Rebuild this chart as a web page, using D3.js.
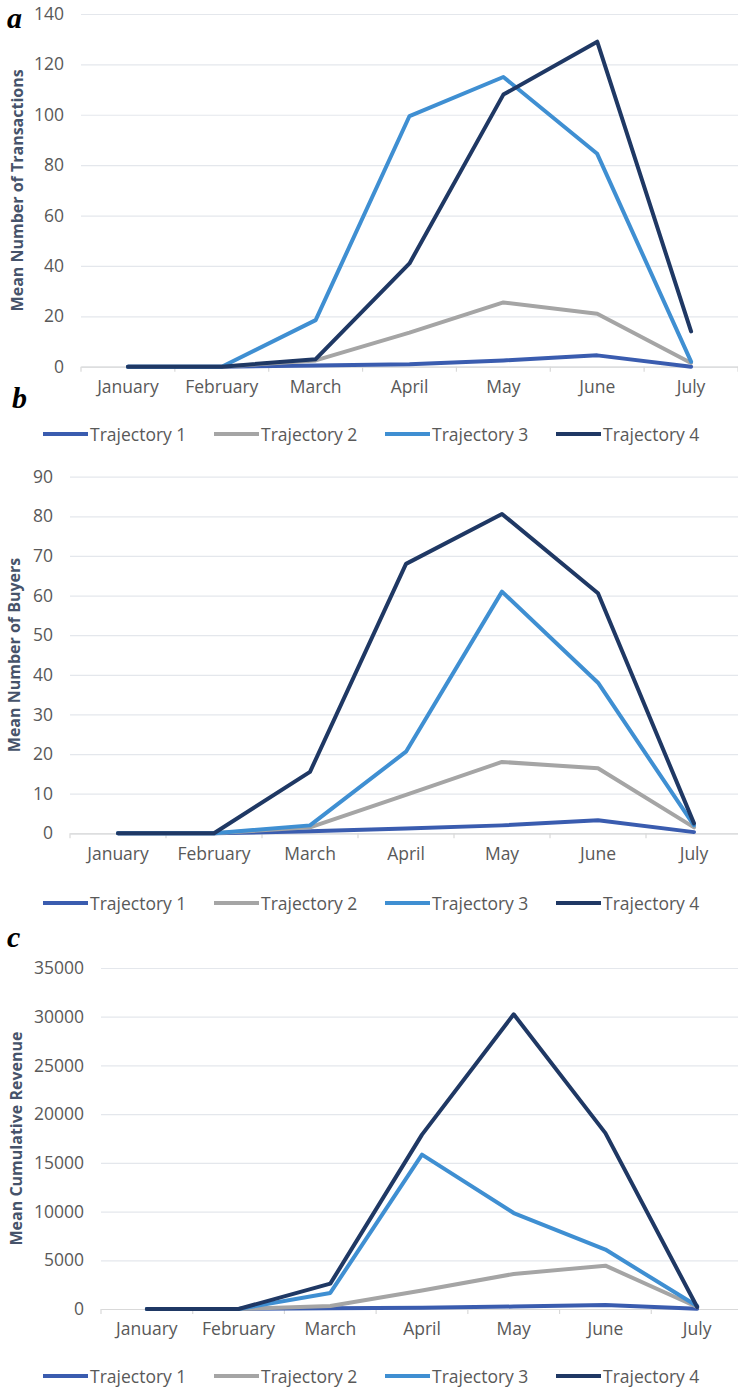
<!DOCTYPE html>
<html>
<head>
<meta charset="utf-8">
<script src="https://cdn.jsdelivr.net/npm/d3@7"></script>
<style>
  body { margin: 0; background: #fff; }
  text { font-family: "Open Sans", sans-serif; }
</style>
</head>
<body>
<svg id="chart" width="738" height="1389"></svg>
<script>
const months = ["January", "February", "March", "April", "May", "June", "July"];
const trajectories = ["Trajectory 1", "Trajectory 2", "Trajectory 3", "Trajectory 4"];
const colors = ["#3a5caf", "#a5a5a5", "#3f8fd2", "#1f3864"];

// a: mean number of transactions
const transTicks = [0, 20, 40, 60, 80, 100, 120, 140];
const transT1 = [0, 0, 0.5, 1, 2.5, 4.5, 0];
const transT2 = [0, 0, 2.5, 13.5, 25.5, 21, 1.5];
const transT3 = [0, 0, 18.5, 99.5, 115, 84.5, 2];
const transT4 = [0, 0, 3, 41, 108, 129, 14];

// b: mean number of buyers
const buyerTicks = [0, 10, 20, 30, 40, 50, 60, 70, 80, 90];
const buyersT1 = [0, 0, 0.5, 1.2, 2, 3.3, 0.3];
const buyersT2 = [0, 0, 1.5, 9.7, 18, 16.4, 1.5];
const buyersT3 = [0, 0, 2, 20.6, 61, 38, 2];
const buyersT4 = [0, 0, 15.5, 68, 80.6, 60.6, 2.5];

// c: mean cumulative revenue
const revenueTicks = [0, 5000, 10000, 15000, 20000, 25000, 30000, 35000];
const revenueT1 = [0, 0, 80, 120, 250, 400, 30];
const revenueT2 = [0, 0, 300, 1900, 3600, 4450, 200];
const revenueT3 = [0, 0, 1650, 15850, 9850, 6100, 300];
const revenueT4 = [0, 0, 2600, 17900, 30250, 18050, 200];

const panels = [
  {tag: "a", title: "Mean Number of Transactions", ticks: transTicks,
   series: [transT1, transT2, transT3, transT4],
   left: 81, right: 738, top: 14, bottom: 366.7, titleX: 17, legendY: 434, tagX: 7, tagY: 28},
  {tag: "b", title: "Mean Number of Buyers", ticks: buyerTicks,
   series: [buyersT1, buyersT2, buyersT3, buyersT4],
   left: 70, right: 742, top: 476.7, bottom: 833.3, titleX: 14, legendY: 903, tagX: 12, tagY: 408},
  {tag: "c", title: "Mean Cumulative Revenue", ticks: revenueTicks,
   series: [revenueT1, revenueT2, revenueT3, revenueT4],
   left: 101, right: 743, top: 968, bottom: 1309, titleX: 15.5, legendY: 1376, tagX: 7, tagY: 947}
];

const svg = d3.select("#chart");

panels.forEach(p => {
  const x = d3.scaleBand().domain(months).range([p.left, p.right]).padding(0);
  const y = d3.scaleLinear().domain([0, d3.max(p.ticks)]).range([p.bottom, p.top]);
  const cx = m => x(m) + x.bandwidth() / 2;

  // gridlines + y tick labels
  const yAxis = svg.append("g")
    .attr("transform", `translate(${p.left},0)`)
    .call(d3.axisLeft(y).tickValues(p.ticks).tickSize(-(p.right - p.left)).tickPadding(17).tickFormat(d3.format("d")));
  yAxis.select(".domain").remove();
  yAxis.selectAll(".tick line").attr("stroke", "#e4e7ec").attr("stroke-width", 1.2);
  yAxis.selectAll(".tick text")
    .attr("fill", "#595959").attr("font-size", 17.5)
    .style("font-family", "'Open Sans', sans-serif");

  // baseline and category labels
  const xAxis = svg.append("g")
    .attr("transform", `translate(0,${p.bottom})`)
    .call(d3.axisBottom(x).tickSize(0).tickPadding(14));
  xAxis.select(".domain").attr("stroke", "#d9d9d9").attr("stroke-width", 1.2);
  xAxis.selectAll(".tick text")
    .attr("fill", "#595959").attr("font-size", 17.5)
    .style("font-family", "'Open Sans', sans-serif");

  // small tick marks between categories
  svg.append("g").selectAll("line")
    .data(months.concat(["end"]))
    .join("line")
    .attr("x1", (d, i) => p.left + i * x.step())
    .attr("x2", (d, i) => p.left + i * x.step())
    .attr("y1", p.bottom)
    .attr("y2", p.bottom + 5)
    .attr("stroke", "#d9d9d9")
    .attr("stroke-width", 1.2);

  // series lines
  const line = d3.line()
    .x((d, i) => cx(months[i]))
    .y(d => y(d));
  svg.append("g").selectAll("path")
    .data(p.series)
    .join("path")
    .attr("d", line)
    .attr("fill", "none")
    .attr("stroke", (d, i) => colors[i])
    .attr("stroke-width", 4)
    .attr("stroke-linejoin", "round")
    .attr("stroke-linecap", "round");

  // y axis title
  svg.append("text")
    .attr("transform", `translate(${p.titleX},${(p.top + p.bottom) / 2}) rotate(-90)`)
    .attr("text-anchor", "middle")
    .attr("dominant-baseline", "central")
    .attr("font-size", 16)
    .attr("font-weight", "bold")
    .attr("fill", "#46536a")
    .text(p.title);

  // panel letter
  svg.append("text")
    .attr("x", p.tagX)
    .attr("y", p.tagY)
    .style("font-family", "'Liberation Serif', 'DejaVu Serif', serif")
    .attr("font-size", 30)
    .attr("font-weight", "bold")
    .attr("font-style", "italic")
    .attr("fill", "#000")
    .text(p.tag);

  // legend
  const legend = svg.append("g").selectAll("g")
    .data(trajectories)
    .join("g")
    .attr("transform", (d, i) => `translate(${43 + i * 171},${p.legendY})`);
  legend.append("line")
    .attr("x1", 0).attr("x2", 45)
    .attr("stroke", (d, i) => colors[i])
    .attr("stroke-width", 4);
  legend.append("text")
    .attr("x", 47)
    .attr("dominant-baseline", "central")
    .attr("font-size", 17.5)
    .attr("fill", "#595959")
    .text(d => d);
});
</script>
</body>
</html>
